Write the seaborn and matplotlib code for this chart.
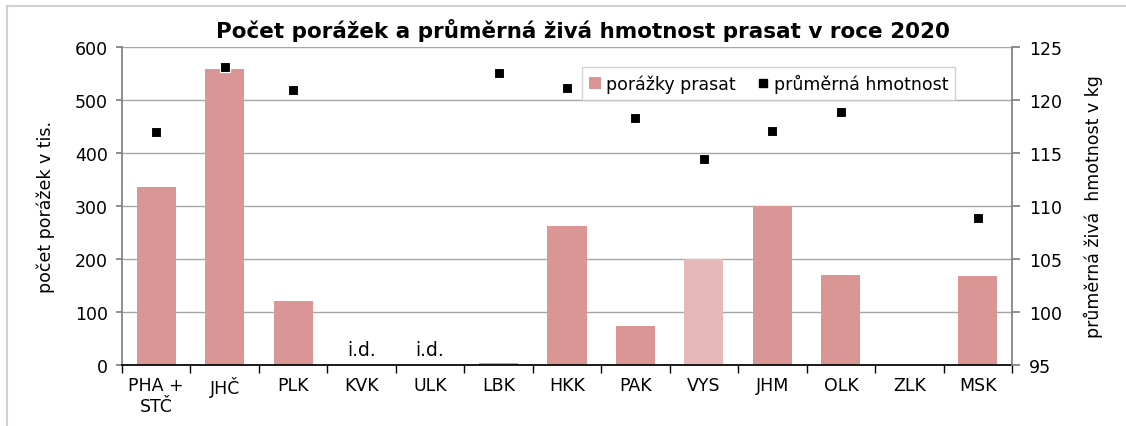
import numpy as np
import pandas as pd
import seaborn as sns
import matplotlib.pyplot as plt
from matplotlib.patches import Patch, Rectangle
from matplotlib.lines import Line2D

regions = ['PHA +\nSTČ', 'JHČ', 'PLK', 'KVK', 'ULK', 'LBK', 'HKK', 'PAK', 'VYS', 'JHM', 'OLK', 'ZLK', 'MSK']
slaughter = [336, 558, 121, 0, 0, 4, 262, 73, 200, 300, 169, 0, 167]
weight = [117.0, 123.1, 120.9, np.nan, np.nan, 122.5, 121.1, 118.3, 114.4, 117.1, 118.9, np.nan, 108.9]
no_data = ['KVK', 'ULK']

bar_col = '#d99694'
light_col = '#e6b9b8'
colors = {r: (light_col if r == 'VYS' else bar_col) for r in regions}

df = pd.DataFrame({'region': regions, 'slaughter': slaughter, 'weight': weight})

sns.set_theme(style='white')
plt.rcParams['font.family'] = ['DejaVu Sans']
plt.rcParams.update({'text.color': 'black', 'axes.labelcolor': 'black',
                     'xtick.color': 'black', 'ytick.color': 'black'})

fig = plt.figure(figsize=(11.26, 4.27), dpi=100)
ax = fig.add_axes([0.1083, 0.1429, 0.7905, 0.7447])

sns.barplot(data=df, x='region', y='slaughter', hue='region', palette=colors,
            legend=False, width=0.57, saturation=1, linewidth=0, ax=ax, zorder=2)
ax.set_xlim(-0.5, len(regions) - 0.5)
ax.set_ylim(0, 600)
ax.set_yticks(range(0, 601, 100))
ax.yaxis.grid(True, color='#a6a6a6', lw=1)
ax.set_axisbelow(True)
ax.set_xlabel('')
ax.set_ylabel('počet porážek v tis.', fontsize=12.5, labelpad=14)
ax.tick_params(axis='y', labelsize=12.5, length=4, color='#808080', left=True, pad=6)
ax.tick_params(axis='x', labelsize=12.5, length=0, pad=8)
ax.set_xticks(np.arange(-0.5, len(regions), 1), minor=True)
ax.tick_params(axis='x', which='minor', length=6, color='black', bottom=True)
for s in ['top', 'right']:
    ax.spines[s].set_visible(False)
ax.spines['left'].set_color('#808080')
ax.spines['bottom'].set_color('black')

for i, r in enumerate(regions):
    if r in no_data:
        ax.text(i, 12, 'i.d.', ha='center', va='bottom', fontsize=13.5)

ax2 = ax.twinx()
sns.scatterplot(data=df, x='region', y='weight', marker='s', color='black', s=55,
                edgecolor='white', linewidth=0.8, ax=ax2, zorder=5)
ax2.set_ylim(95, 125)
ax2.set_yticks(range(95, 126, 5))
ax2.set_ylabel('průměrná živá  hmotnost v kg', fontsize=12.5, labelpad=16)
ax2.tick_params(axis='y', labelsize=12.5, length=6, color='#808080', right=True, pad=6)
for s in ['top', 'left', 'bottom']:
    ax2.spines[s].set_visible(False)
ax2.spines['right'].set_color('#808080')
ax2.set_xlim(-0.5, len(regions) - 0.5)

fig.suptitle('Počet porážek a průměrná živá hmotnost prasat v roce 2020',
             fontsize=15.5, fontweight='bold', x=0.518, y=0.955)

handles = [Patch(facecolor=bar_col, edgecolor='none'),
           Line2D([], [], marker='s', color='black', lw=0, markersize=6)]
leg = ax2.legend(handles, ['porážky prasat', 'průměrná hmotnost'], ncol=2,
                 loc='upper right', bbox_to_anchor=(0.946, 0.965), fontsize=12.5,
                 frameon=True, fancybox=False, edgecolor='#c8c8c8',
                 handlelength=0.7, handletextpad=0.3, columnspacing=1.2, borderpad=0.4)
leg.get_frame().set_linewidth(1)

fig.patches.append(Rectangle((0.006, -0.01), 1.2, 0.994, transform=fig.transFigure,
                             fill=False, edgecolor='#d0d0d0', lw=1.5))

fig.savefig('out.png', dpi=100)
